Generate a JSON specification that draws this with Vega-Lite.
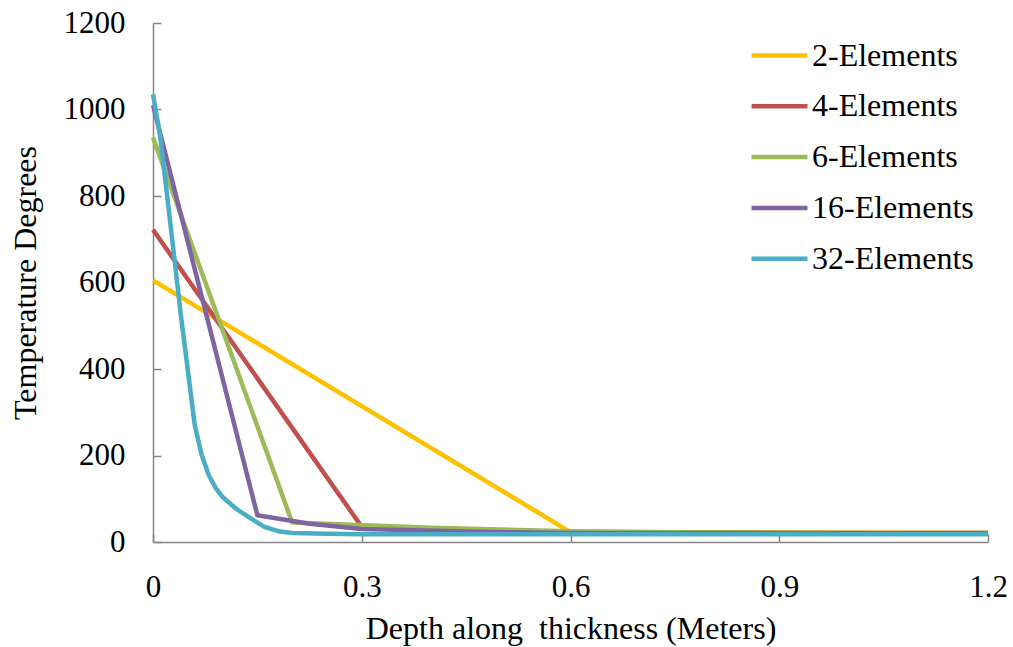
{
  "$schema": "https://vega.github.io/schema/vega-lite/v6.json",
  "autosize": "none",
  "width": 835,
  "height": 519,
  "padding": {"left": 153, "top": 23, "right": 25, "bottom": 105},
  "background": "white",
  "config": {
    "view": {"stroke": null},
    "font": "Liberation Serif",
    "axis": {
      "domainColor": "#868686",
      "domainWidth": 1.5,
      "tickColor": "#868686",
      "tickWidth": 1.5,
      "tickSize": -8,
      "grid": false,
      "labelFont": "Liberation Serif",
      "labelFontSize": 31,
      "labelColor": "black",
      "labelFlush": false,
      "titleFont": "Liberation Serif",
      "titleFontSize": 32,
      "titleFontWeight": "normal",
      "titleColor": "black"
    },
    "legend": {
      "labelFont": "Liberation Serif",
      "labelFontSize": 32,
      "labelColor": "black",
      "labelLimit": 400
    }
  },
  "data": {
    "values": [
      {"series": "2-Elements", "x": 0, "y": 605},
      {"series": "2-Elements", "x": 0.6, "y": 23},
      {"series": "2-Elements", "x": 1.2, "y": 21},
      {"series": "4-Elements", "x": 0, "y": 722},
      {"series": "4-Elements", "x": 0.3, "y": 35},
      {"series": "4-Elements", "x": 0.6, "y": 23},
      {"series": "4-Elements", "x": 0.9, "y": 21},
      {"series": "4-Elements", "x": 1.2, "y": 21},
      {"series": "6-Elements", "x": 0, "y": 935},
      {"series": "6-Elements", "x": 0.2, "y": 45},
      {"series": "6-Elements", "x": 0.4, "y": 33},
      {"series": "6-Elements", "x": 0.6, "y": 25},
      {"series": "6-Elements", "x": 0.8, "y": 22},
      {"series": "6-Elements", "x": 1.0, "y": 21},
      {"series": "6-Elements", "x": 1.2, "y": 21},
      {"series": "16-Elements", "x": 0, "y": 1010},
      {"series": "16-Elements", "x": 0.075, "y": 536},
      {"series": "16-Elements", "x": 0.15, "y": 62},
      {"series": "16-Elements", "x": 0.225, "y": 42},
      {"series": "16-Elements", "x": 0.3, "y": 30},
      {"series": "16-Elements", "x": 0.45, "y": 24},
      {"series": "16-Elements", "x": 0.6, "y": 21},
      {"series": "16-Elements", "x": 0.9, "y": 20},
      {"series": "16-Elements", "x": 1.2, "y": 20},
      {"series": "32-Elements", "x": 0, "y": 1035},
      {"series": "32-Elements", "x": 0.01, "y": 941},
      {"series": "32-Elements", "x": 0.02, "y": 805},
      {"series": "32-Elements", "x": 0.03, "y": 666},
      {"series": "32-Elements", "x": 0.04, "y": 525},
      {"series": "32-Elements", "x": 0.05, "y": 398},
      {"series": "32-Elements", "x": 0.06, "y": 270},
      {"series": "32-Elements", "x": 0.07, "y": 201},
      {"series": "32-Elements", "x": 0.08, "y": 155},
      {"series": "32-Elements", "x": 0.09, "y": 125},
      {"series": "32-Elements", "x": 0.1, "y": 104},
      {"series": "32-Elements", "x": 0.12, "y": 76},
      {"series": "32-Elements", "x": 0.14, "y": 55},
      {"series": "32-Elements", "x": 0.16, "y": 35},
      {"series": "32-Elements", "x": 0.18, "y": 25},
      {"series": "32-Elements", "x": 0.2, "y": 21},
      {"series": "32-Elements", "x": 0.25, "y": 19},
      {"series": "32-Elements", "x": 0.3, "y": 18},
      {"series": "32-Elements", "x": 0.6, "y": 18},
      {"series": "32-Elements", "x": 1.2, "y": 18}
    ]
  },
  "mark": {"type": "line", "strokeWidth": 4.5, "strokeJoin": "round"},
  "encoding": {
    "x": {
      "field": "x",
      "type": "quantitative",
      "scale": {"domain": [0, 1.2], "nice": false},
      "axis": {"values": [0, 0.3, 0.6, 0.9, 1.2], "format": "~g", "labelPadding": 38, "title": "Depth along\u00a0 thickness (Meters)", "titlePadding": 11}
    },
    "y": {
      "field": "y",
      "type": "quantitative",
      "scale": {"domain": [0, 1200], "nice": false},
      "axis": {"values": [0, 200, 400, 600, 800, 1000, 1200], "format": "d", "labelPadding": 36, "title": "Temperature Degrees", "titlePadding": 21}
    },
    "color": {
      "field": "series",
      "type": "nominal",
      "sort": ["2-Elements", "4-Elements", "6-Elements", "16-Elements", "32-Elements"],
      "scale": {
        "domain": ["2-Elements", "4-Elements", "6-Elements", "16-Elements", "32-Elements"],
        "range": ["#FFC000", "#C0504D", "#9BBB59", "#8064A2", "#4BACC6"]
      },
      "legend": {
        "title": null,
        "orient": "none",
        "legendX": 596,
        "legendY": 2,
        "symbolType": "stroke",
        "symbolStrokeWidth": 4.5,
        "symbolSize": 3136,
        "rowPadding": 3.8,
        "labelOffset": 2
      }
    }
  }
}
